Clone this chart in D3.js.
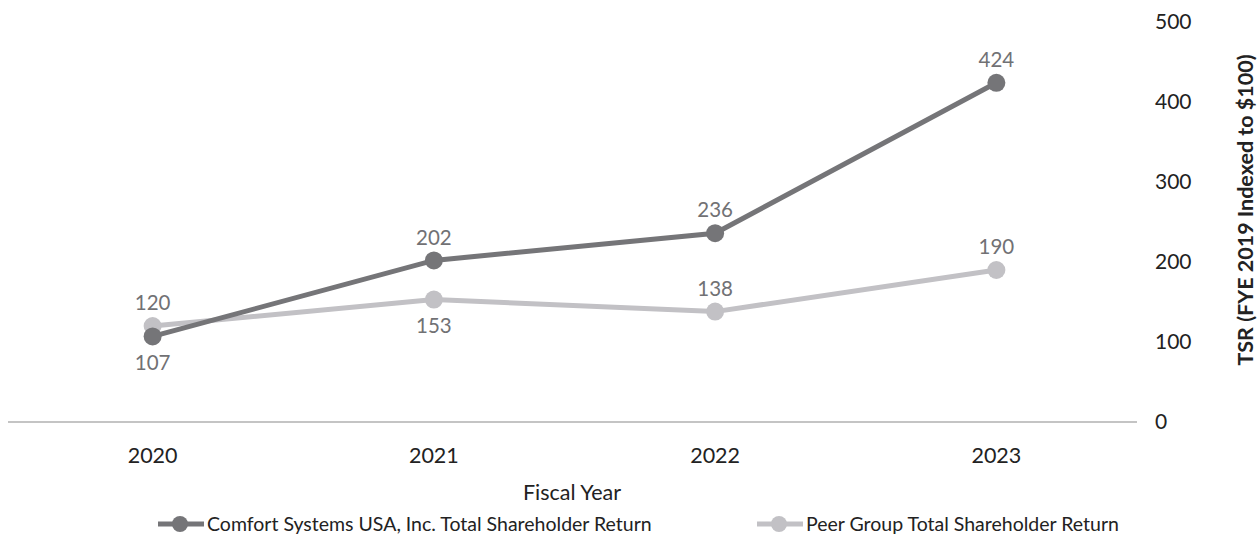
<!DOCTYPE html>
<html>
<head>
  <meta charset="utf-8">
  <script src="https://d3js.org/d3.v7.min.js"></script>
  <style>
    body { margin: 0; background: #fff; }
    svg text { font-family: "Lato", "Open Sans", sans-serif; }
  </style>
</head>
<body>
<svg id="chart"></svg>
<script>
  var width = 1258;
  var height = 536;

  // data
  var years = ["2020", "2021", "2022", "2023"];
  var comfort = [107, 202, 236, 424];
  var peer = [120, 153, 138, 190];
  // where each value label sits: 1 = above the point, -1 = below
  var comfortLabelSide = [-1, 1, 1, 1];
  var peerLabelSide = [1, -1, 1, 1];
  var yTicks = [0, 100, 200, 300, 400, 500];
  var seriesNames = ["Comfort Systems USA, Inc. Total Shareholder Return", "Peer Group Total Shareholder Return"];

  var darkGrey = "#757578";
  var lightGrey = "#c2c1c5";

  var svg = d3.select("#chart")
    .attr("width", width)
    .attr("height", height);

  var x = d3.scaleBand()
    .domain(years)
    .range([12, 1137]);

  var y = d3.scaleLinear()
    .domain([0, 500])
    .range([422, 22]);

  // baseline
  svg.append("line")
    .attr("x1", 8)
    .attr("x2", 1137)
    .attr("y1", y(0))
    .attr("y2", y(0))
    .attr("stroke", "#8a8a8a")
    .attr("stroke-width", 1.2);

  // right-side y tick labels
  svg.selectAll(".ytick")
    .data(yTicks)
    .enter()
    .append("text")
    .attr("class", "ytick")
    .attr("x", 1155)
    .attr("y", d => y(d))
    .attr("dy", "0.35em")
    .style("font-size", "21px")
    .attr("fill", "#222")
    .text(d => d);

  svg.append("text")
    .attr("transform", "translate(1253," + 210 + ") rotate(-90)")
    .attr("text-anchor", "middle")
    .style("font-size", "21.5px")
    .style("font-weight", "bold")
    .attr("fill", "#222")
    .text("TSR (FYE 2019 Indexed to $100)");

  // x tick labels
  svg.selectAll(".xtick")
    .data(years)
    .enter()
    .append("text")
    .attr("class", "xtick")
    .attr("x", d => x(d) + x.bandwidth() / 2)
    .attr("y", 455)
    .attr("dy", "0.35em")
    .attr("text-anchor", "middle")
    .style("font-size", "21.5px")
    .attr("fill", "#222")
    .text(d => d);

  svg.append("text")
    .attr("x", 572)
    .attr("y", 492)
    .attr("dy", "0.35em")
    .attr("text-anchor", "middle")
    .style("font-size", "21.5px")
    .attr("fill", "#222")
    .text("Fiscal Year");

  var line = d3.line()
    .x((d, i) => x(years[i]) + x.bandwidth() / 2)
    .y(d => y(d));

  function drawSeries(values, sides, color) {
    svg.append("path")
      .datum(values)
      .attr("d", line)
      .attr("fill", "none")
      .attr("stroke", color)
      .attr("stroke-width", 5);

    svg.selectAll(null)
      .data(values)
      .enter()
      .append("circle")
      .attr("cx", (d, i) => x(years[i]) + x.bandwidth() / 2)
      .attr("cy", d => y(d))
      .attr("r", 9)
      .attr("fill", color);

    svg.selectAll(null)
      .data(values)
      .enter()
      .append("text")
      .attr("x", (d, i) => x(years[i]) + x.bandwidth() / 2)
      .attr("y", (d, i) => y(d) + (sides[i] > 0 ? -23 : 26))
      .attr("dy", "0.35em")
      .attr("text-anchor", "middle")
      .style("font-size", "20.5px")
      .attr("fill", "#717174")
      .text(d => d);
  }

  drawSeries(peer, peerLabelSide, lightGrey);
  drawSeries(comfort, comfortLabelSide, darkGrey);

  // legend
  var legendItems = [
    { name: seriesNames[0], color: darkGrey, x: 158 },
    { name: seriesNames[1], color: lightGrey, x: 757 }
  ];
  var legendY = 524;

  legendItems.forEach(function(item) {
    var lg = svg.append("g");
    lg.append("line")
      .attr("x1", item.x)
      .attr("x2", item.x + 46)
      .attr("y1", legendY)
      .attr("y2", legendY)
      .attr("stroke", item.color)
      .attr("stroke-width", 5);
    lg.append("circle")
      .attr("cx", item.x + 22)
      .attr("cy", legendY)
      .attr("r", 8)
      .attr("fill", item.color);
    lg.append("text")
      .attr("x", item.x + 49)
      .attr("y", legendY)
      .attr("dy", "0.35em")
      .style("font-size", "19.5px")
      .attr("fill", "#222")
      .text(item.name);
  });
</script>
</body>
</html>
